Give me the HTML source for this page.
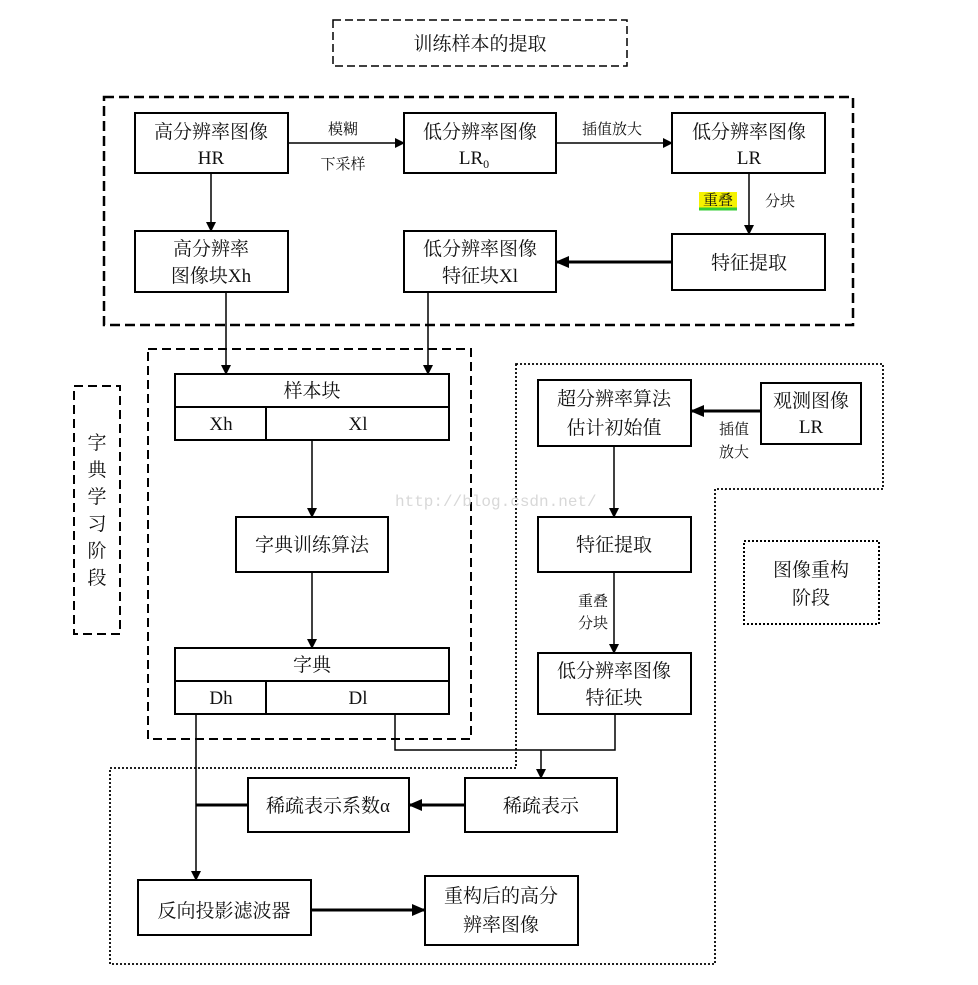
<!DOCTYPE html>
<html><head><meta charset="utf-8"><style>
html,body{margin:0;padding:0;background:#fff;}
svg text{font-family:"Liberation Serif","Noto Serif CJK SC","Noto Sans CJK SC",serif;fill:#111;}
</style></head><body>
<svg width="978" height="980" viewBox="0 0 978 980" xmlns="http://www.w3.org/2000/svg">
<defs>
<marker id="a" markerWidth="10" markerHeight="10" refX="9" refY="5" orient="auto" markerUnits="userSpaceOnUse">
<path d="M0,0 L10,5 L0,10 z" fill="#000"/></marker>
<marker id="b" markerWidth="14" markerHeight="14" refX="13" refY="7" orient="auto" markerUnits="userSpaceOnUse">
<path d="M0,1 L14,7 L0,13 z" fill="#000"/></marker>
</defs>
<g fill="none" stroke="#000">
<!-- dashed regions -->
<rect x="333" y="20" width="294" height="46" stroke-width="1.5" stroke-dasharray="8,4"/>
<rect x="104" y="97" width="749" height="228" stroke-width="2.5" stroke-dasharray="10,5"/>
<rect x="148" y="349" width="323" height="390" stroke-width="2" stroke-dasharray="9,5"/>
<rect x="74" y="386" width="46" height="248" stroke-width="2" stroke-dasharray="9,5"/>
<rect x="744" y="541" width="135" height="83" stroke-width="2" stroke-dasharray="2,2"/>
<path d="M516,364 H883 V489 H715 V964 H110 V768 H516 Z" stroke-width="1.8" stroke-dasharray="2,2"/>
<!-- boxes -->
<g stroke-width="2">
<rect x="135" y="113" width="153" height="60"/>
<rect x="404" y="113" width="152" height="60"/>
<rect x="672" y="113" width="153" height="60"/>
<rect x="135" y="231" width="153" height="61"/>
<rect x="404" y="231" width="152" height="61"/>
<rect x="672" y="234" width="153" height="56"/>
<rect x="175" y="374" width="274" height="66"/>
<line x1="175" y1="407" x2="449" y2="407"/>
<line x1="266" y1="407" x2="266" y2="440"/>
<rect x="236" y="517" width="152" height="55"/>
<rect x="175" y="648" width="274" height="66"/>
<line x1="175" y1="681" x2="449" y2="681"/>
<line x1="266" y1="681" x2="266" y2="714"/>
<rect x="538" y="380" width="153" height="66"/>
<rect x="761" y="383" width="100" height="61"/>
<rect x="538" y="517" width="153" height="55"/>
<rect x="538" y="653" width="153" height="61"/>
<rect x="465" y="778" width="152" height="54"/>
<rect x="248" y="778" width="161" height="54"/>
<rect x="138" y="880" width="173" height="55"/>
<rect x="425" y="876" width="153" height="69"/>
</g>
<!-- connectors -->
<g stroke-width="1.5">
<line x1="288" y1="143" x2="404" y2="143" marker-end="url(#a)"/>
<line x1="556" y1="143" x2="672" y2="143" marker-end="url(#a)"/>
<line x1="211" y1="173" x2="211" y2="231" marker-end="url(#a)"/>
<line x1="749" y1="173" x2="749" y2="234" marker-end="url(#a)"/>
<line x1="226" y1="292" x2="226" y2="374" marker-end="url(#a)"/>
<line x1="428" y1="292" x2="428" y2="374" marker-end="url(#a)"/>
<line x1="312" y1="440" x2="312" y2="517" marker-end="url(#a)"/>
<line x1="312" y1="572" x2="312" y2="648" marker-end="url(#a)"/>
<line x1="614" y1="446" x2="614" y2="517" marker-end="url(#a)"/>
<line x1="614" y1="572" x2="614" y2="653" marker-end="url(#a)"/>
<path d="M395,714 V750 H615 V714"/>
<line x1="541" y1="750" x2="541" y2="778" marker-end="url(#a)"/>
<line x1="196" y1="714" x2="196" y2="880" marker-end="url(#a)"/>
</g>
<g stroke-width="3">
<line x1="672" y1="262" x2="556" y2="262" marker-end="url(#b)"/>
<line x1="761" y1="411" x2="691" y2="411" marker-end="url(#b)"/>
<line x1="465" y1="805" x2="409" y2="805" marker-end="url(#b)"/>
<line x1="248" y1="805" x2="196" y2="805"/>
<line x1="311" y1="910" x2="425" y2="910" marker-end="url(#b)"/>
</g>
</g>
<rect x="699" y="192" width="38" height="16" fill="#f5f200"/>
<line x1="699" y1="209" x2="737" y2="209" stroke="#33cc33" stroke-width="3"/>
<g font-size="19" text-anchor="middle">
<text x="480" y="50">训练样本的提取</text>
<text x="211" y="138">高分辨率图像</text><text x="211" y="164">HR</text>
<text x="480" y="138">低分辨率图像</text><text x="474" y="164">LR<tspan font-size="12" dy="4">0</tspan></text>
<text x="749" y="138">低分辨率图像</text><text x="749" y="164">LR</text>
<text x="211" y="255">高分辨率</text><text x="211" y="282">图像块Xh</text>
<text x="480" y="255">低分辨率图像</text><text x="480" y="282">特征块Xl</text>
<text x="749" y="269">特征提取</text>
<text x="312" y="397">样本块</text>
<text x="221" y="430">Xh</text><text x="358" y="430">Xl</text>
<text x="312" y="551">字典训练算法</text>
<text x="312" y="671">字典</text>
<text x="221" y="704">Dh</text><text x="358" y="704">Dl</text>
<text x="614" y="405">超分辨率算法</text><text x="614" y="434">估计初始值</text>
<text x="811" y="407">观测图像</text><text x="811" y="433">LR</text>
<text x="614" y="551">特征提取</text>
<text x="614" y="677">低分辨率图像</text><text x="614" y="704">特征块</text>
<text x="811" y="576">图像重构</text><text x="811" y="604">阶段</text>
<text x="541" y="812">稀疏表示</text>
<text x="328" y="812">稀疏表示系数α</text>
<text x="224" y="917">反向投影滤波器</text>
<text x="501" y="902">重构后的高分</text><text x="501" y="931">辨率图像</text>
<text x="97" y="449">字</text><text x="97" y="476">典</text><text x="97" y="503">学</text>
<text x="97" y="530">习</text><text x="97" y="557">阶</text><text x="97" y="584">段</text>
</g>
<g font-size="15" text-anchor="middle">
<text x="343" y="134">模糊</text>
<text x="343" y="169">下采样</text>
<text x="612" y="134">插值放大</text>
<text x="718" y="205">重叠</text>
<text x="780" y="206">分块</text>
<text x="734" y="434">插值</text><text x="734" y="457">放大</text>
<text x="593" y="606">重叠</text><text x="593" y="628">分块</text>
</g>
<text x="395" y="506" font-size="16" style="font-family:'Liberation Mono',monospace;fill:#d8d8d8">http://blog.csdn.net/</text>
</svg>
</body></html>
